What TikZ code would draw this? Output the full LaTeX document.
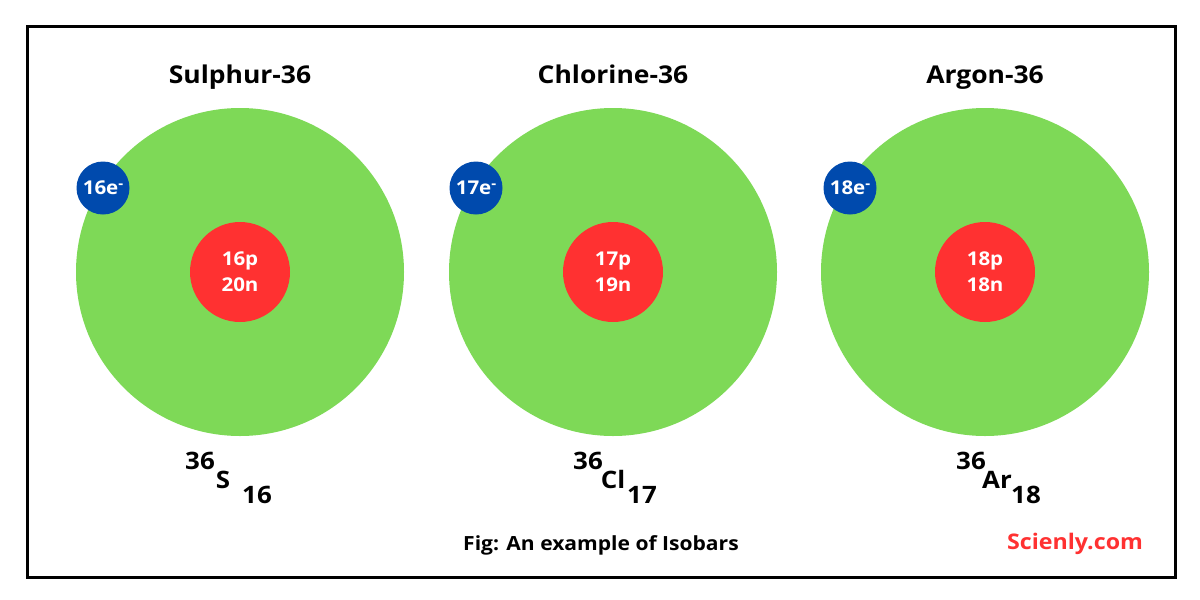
\documentclass[tikz,border=0pt]{standalone}
\usepackage{fontspec}
\setmainfont{Open Sans}[FakeStretch=1.08]
\definecolor{grn}{HTML}{7ED957}
\definecolor{nred}{HTML}{FF3131}
\definecolor{eblue}{HTML}{004AAD}
\tikzset{
  shell/.style={circle,fill=grn,minimum size=328pt,inner sep=0pt},
  nucleus/.style={circle,fill=nred,minimum size=100pt,inner sep=0pt,text=white,align=center,font=\fontsize{19}{26}\selectfont\bfseries},
  electron/.style={circle,fill=eblue,minimum size=53pt,inner sep=0pt,text=white,font=\fontsize{19}{20}\selectfont\bfseries},
  title/.style={font=\fontsize{24.5}{28}\selectfont\bfseries,inner sep=0pt,anchor=base},
  sym/.style={font=\fontsize{24}{26}\selectfont\bfseries,inner sep=0pt,anchor=base},
  figcap/.style={font=\fontsize{19.5}{22}\selectfont\bfseries,inner sep=0pt,anchor=base},
}
\newcommand{\emin}{e\raisebox{0.62ex}{\fontsize{14}{14}\selectfont\bfseries -}}
\begin{document}
\begin{tikzpicture}[x=1pt,y=-1pt]
\useasboundingbox (0,0) rectangle (1200,600);
\draw[line width=3pt] (27,26) rectangle (1175,577);
% Sulphur
\node[title] (t1) at (240,83.5) {Sulphur-36};
\node[shell] (s1) at (240,272) {};
\node[nucleus] (n1) at (240,272) {16p\\20n};
\node[electron] (e1) at (103,188) {16\emin};
\node[sym] (a1) at (200,469) {36};
\node[sym] (b1) at (223,488) {S};
\node[sym] (c1) at (257,503) {16};
% Chlorine
\node[title] (t2) at (613,83.5) {Chlorine-36};
\node[shell] (s2) at (613,272) {};
\node[nucleus] (n2) at (613,272) {17p\\19n};
\node[electron] (e2) at (476,188) {17\emin};
\node[sym] (a2) at (588,469) {36};
\node[sym] (b2) at (613,488) {Cl};
\node[sym] (c2) at (642,503) {17};
% Argon
\node[title] (t3) at (985,83.5) {Argon-36};
\node[shell] (s3) at (985,272) {};
\node[nucleus] (n3) at (985,272) {18p\\18n};
\node[electron] (e3) at (850,188) {18\emin};
\node[sym] (a3) at (971,469) {36};
\node[sym] (b3) at (997,488) {Ar};
\node[sym] (c3) at (1026,503) {18};
% captions
\node[figcap] (fig) at (601,550) {Fig: An example of Isobars};
\node[figcap,text=nred,font=\fontsize{21.5}{24}\selectfont\bfseries] (web) at (1075,549) {Scienly.com};
\end{tikzpicture}
\end{document}
